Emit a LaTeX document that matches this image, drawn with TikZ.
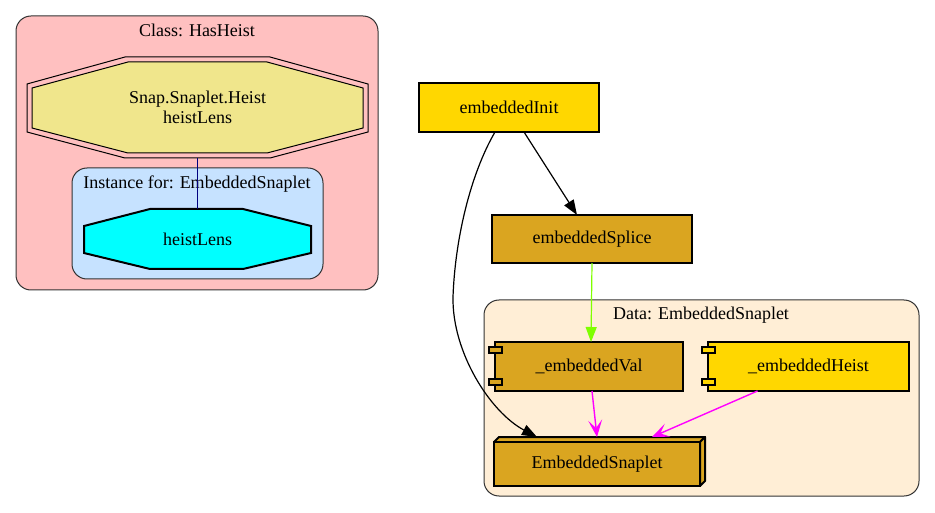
\documentclass[tikz,border=0pt]{standalone}
\usepackage{fontspec}
\setmainfont{Liberation Serif}
\usetikzlibrary{arrows.meta}

\definecolor{clspink}{HTML}{FFC0C0}
\definecolor{instblue}{HTML}{C6E2FF}
\definecolor{datacream}{HTML}{FFEED6}
\definecolor{khakiy}{HTML}{F0E68C}
\definecolor{goldy}{HTML}{FFD700}
\definecolor{goldrod}{HTML}{DAA520}
\definecolor{chartr}{HTML}{7FFF00}
\definecolor{navyline}{HTML}{000080}
\definecolor{aqua}{HTML}{00FFFF}
\definecolor{fuchsia}{HTML}{FF00FF}

\tikzset{
  txt/.style={font=\fontsize{18}{20}\selectfont, align=center, inner sep=0pt},
  clus/.style={draw=black!80, line width=1pt, rounded corners=15pt},
  fnbox/.style={txt, draw, line width=2pt, outer sep=0pt},
  solid arrow/.style={line width=1.2pt, -{Triangle[length=15pt,width=11pt]}},
  vee arrow/.style={line width=1.4pt, draw=fuchsia, -{Stealth[length=17pt,width=14pt,inset=8pt]}},
}

\begin{document}
\begin{tikzpicture}[x=1pt,y=-1pt]
\useasboundingbox (0,0) rectangle (935,513);

% class HasHeist
\filldraw[clus, fill=clspink] (16,16) rectangle (378,290);
\node[txt] (clsname) at (197,30) {Class: HasHeist};
\draw[line width=1pt] (125,57) -- (270,57) -- (368,84) -- (368,132) -- (270,158) -- (125,158) -- (27,132) -- (27,84) -- cycle;
\filldraw[line width=1pt, fill=khakiy] (128,62) -- (267,62) -- (363,88) -- (363,128) -- (267,153) -- (128,153) -- (32,128) -- (32,88) -- cycle;
\node[txt, minimum width=341pt, minimum height=101pt] (hmeth) at (197.5,107.5) {Snap.Snaplet.Heist\\heistLens};

% instance
\filldraw[clus, fill=instblue] (72,168) rectangle (323,279);
\node[txt] (instname) at (197,184) {Instance for: EmbeddedSnaplet};
\filldraw[line width=2pt, fill=aqua] (150,209) -- (243,209) -- (311,226) -- (311,253) -- (243,269) -- (150,269) -- (84,253) -- (84,226) -- cycle;
\node[txt, minimum width=227pt, minimum height=60pt] (hlens) at (197.5,239) {heistLens};
\draw[line width=1pt, navyline] (hmeth.south) -- (hlens.north);

% data EmbeddedSnaplet
\filldraw[clus, fill=datacream] (484,300) rectangle (919,496);
\node[txt] (dataname) at (701,315) {Data: EmbeddedSnaplet};

\node[fnbox, fill=goldy, minimum width=180pt, minimum height=49pt] (init) at (509,107.5) {embeddedInit};
\node[fnbox, fill=goldrod, minimum width=200pt, minimum height=48pt] (splice) at (592,239) {embeddedSplice};

% fields
\node[fnbox, fill=goldrod, minimum width=188pt, minimum height=49pt] (val) at (589,366.5) {\_embeddedVal};
\filldraw[line width=1.5pt, fill=goldrod] (489,347) rectangle (502,353);
\filldraw[line width=1.5pt, fill=goldrod] (489,379) rectangle (502,385);
\node[fnbox, fill=goldy, minimum width=201pt, minimum height=49pt] (heist) at (808.5,366.5) {\_embeddedHeist};
\filldraw[line width=1.5pt, fill=goldy] (702,347) rectangle (715,353);
\filldraw[line width=1.5pt, fill=goldy] (702,379) rectangle (715,385);

% constructor
\filldraw[line width=2pt, fill=goldrod, line join=round] (494,442) -- (499,437) -- (705,437) -- (700,442) -- cycle;
\filldraw[line width=2pt, fill=goldrod, line join=round] (700,442) -- (705,437) -- (705,481) -- (700,486) -- cycle;
\node[fnbox, fill=goldrod, minimum width=206pt, minimum height=44pt] (snap) at (597,464) {EmbeddedSnaplet};

% edges
\draw[solid arrow] ([xshift=15pt]init.south) -- ([xshift=-15pt]splice.north);
\draw[solid arrow] ([xshift=-14pt]init.south) .. controls (470,175) and (455,240) .. (453,297) .. controls (452,352) and (490,412) .. ([xshift=-60pt,yshift=5pt]snap.north);
\draw[line width=1.2pt, chartr, -{Triangle[length=15pt,width=11pt]}] (splice.south) -- ([xshift=2pt]val.north);
\draw[vee arrow] ([xshift=3pt]val.south) -- ([yshift=5pt]snap.north);
\draw[vee arrow] ([xshift=-51pt]heist.south) -- ([xshift=55pt,yshift=5pt]snap.north);
\end{tikzpicture}
\end{document}
